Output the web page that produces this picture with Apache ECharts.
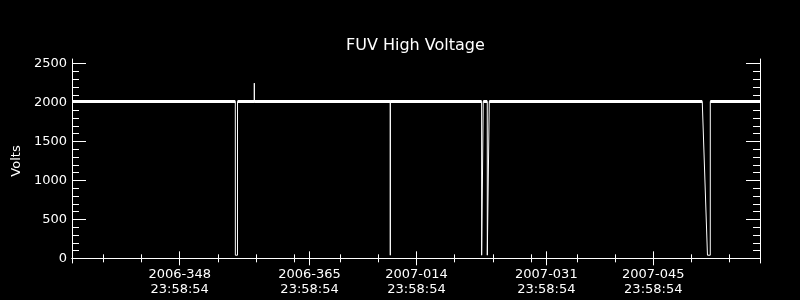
<!DOCTYPE html>
<html>
<head>
<meta charset="utf-8">
<script src="https://cdn.jsdelivr.net/npm/echarts@6/dist/echarts.min.js"></script>
<style>
  html, body { margin: 0; padding: 0; background: #000; }
  #chart { width: 800px; height: 300px; }
</style>
</head>
<body>
<div id="chart"></div>
<script>
// sample times and voltages
var times = [
  '2006-11-30 21:35',
  '2006-12-22 06:40', '2006-12-22 06:50', '2006-12-22 13:30', '2006-12-22 13:40',
  '2006-12-24 18:20', '2006-12-24 18:25', '2006-12-24 18:30',
  '2007-01-11 13:35', '2007-01-11 13:40', '2007-01-11 13:45',
  '2007-01-23 12:35', '2007-01-23 12:40', '2007-01-23 17:40', '2007-01-23 17:45',
  '2007-01-24 06:20', '2007-01-24 06:25', '2007-01-24 12:35', '2007-01-24 12:40',
  '2007-02-21 09:50', '2007-02-22 02:10', '2007-02-22 11:00', '2007-02-22 11:05',
  '2007-02-28 23:15'
]
var volts = [
  2015,
  2015, 40, 40, 2015,
  2015, 2250, 2015,
  2015, 40, 2015,
  2015, 40, 40, 2015,
  2015, 40, 40, 2015,
  2015, 40, 40, 2015,
  2015
]

var xMin = '2006-11-30 21:35'
var xMax = '2007-02-28 23:15'
var majorTimes = ['2006-12-14 23:58:54', '2006-12-31 23:58:54', '2007-01-14 23:58:54', '2007-01-31 23:58:54', '2007-02-14 23:58:54']
var tickLabels = ['2006-348\n23:58:54', '2006-365\n23:58:54', '2007-014\n23:58:54', '2007-031\n23:58:54', '2007-045\n23:58:54']
var minorTimes = [
  '2006-12-04 23:58:54', '2006-12-09 23:58:54', '2006-12-14 23:58:54', '2006-12-19 23:58:54', '2006-12-24 23:58:54', '2006-12-29 23:58:54',
  '2007-01-04 23:58:54', '2007-01-09 23:58:54', '2007-01-14 23:58:54', '2007-01-19 23:58:54', '2007-01-24 23:58:54', '2007-01-29 23:58:54',
  '2007-02-04 23:58:54', '2007-02-09 23:58:54', '2007-02-14 23:58:54', '2007-02-19 23:58:54', '2007-02-24 23:58:54'
]
var yMajor = [0, 500, 1000, 1500, 2000, 2500]
var yMinor = [0, 100, 200, 300, 400, 500, 600, 700, 800, 900, 1000, 1100, 1200, 1300, 1400,
  1500, 1600, 1700, 1800, 1900, 2000, 2100, 2200, 2300, 2400, 2500]

var t = function (s) { return +echarts.time.parse(s) }
var majorVals = majorTimes.map(t)
var minorVals = minorTimes.map(t)

var font = 'DejaVu Sans'
var white = '#fff'

var lineData = times.map(function (s, i) { return [t(s), volts[i]] })
// the noisy level is drawn as a thicker band, dips as thin lines
var bandData = times.map(function (s, i) {
  var v = volts[i]
  return [t(s), (v > 1900 && v < 2100) ? v : null]
})

function xAx (pos, len, vals, main) {
  return {
    type: 'value',
    position: pos,
    min: t(xMin),
    max: t(xMax),
    axisLine: { show: main, lineStyle: { color: white, width: 1 } },
    axisTick: { show: true, inside: true, length: len, customValues: vals, lineStyle: { color: white } },
    axisLabel: main && pos === 'bottom' ? {
      show: true,
      customValues: majorVals,
      color: white,
      fontFamily: font,
      fontSize: 13,
      lineHeight: 15,
      margin: 4,
      formatter: function (val) {
        var best = 0
        for (var i = 1; i < majorVals.length; i++) {
          if (Math.abs(majorVals[i] - val) < Math.abs(majorVals[best] - val)) best = i
        }
        return tickLabels[best]
      }
    } : { show: false },
    splitLine: { show: false }
  }
}

function yAx (pos, len, vals, main, withLabel) {
  var ax = {
    type: 'value',
    position: pos,
    min: -60,
    max: 2560,
    axisLine: { show: main, lineStyle: { color: white, width: 1 } },
    axisTick: { show: true, inside: true, length: len, customValues: vals, lineStyle: { color: white } },
    axisLabel: withLabel ? {
      show: true,
      customValues: yMajor,
      color: white,
      fontFamily: font,
      fontSize: 13,
      margin: 5,
      formatter: function (val) { return String(Math.round(val)) }
    } : { show: false },
    splitLine: { show: false }
  }
  if (withLabel) {
    ax.name = 'Volts'
    ax.nameLocation = 'middle'
    ax.nameGap = 44
    ax.nameTextStyle = { color: white, fontFamily: font, fontSize: 13 }
  }
  return ax
}

var chart = echarts.init(document.getElementById('chart'))
chart.setOption({
  backgroundColor: '#000',
  animation: false,
  title: {
    text: 'FUV High Voltage',
    left: 346,
    top: 38,
    padding: 0,
    textStyle: { color: white, fontFamily: font, fontSize: 16, fontWeight: 'normal' }
  },
  grid: { left: 72, right: 40, top: 59, bottom: 37 },
  xAxis: [
    xAx('bottom', 7, majorVals, true),
    xAx('bottom', 4, minorVals, false),
    xAx('top', 7, majorVals, true),
    xAx('top', 4, minorVals, false)
  ],
  yAxis: [
    yAx('left', 14, yMajor, true, true),
    yAx('left', 7, yMinor, false, false),
    yAx('right', 14, yMajor, true, false),
    yAx('right', 7, yMinor, false, false)
  ],
  series: [
    {
      name: 'band',
      type: 'line',
      data: bandData,
      xAxisIndex: 0,
      yAxisIndex: 0,
      symbol: 'none',
      connectNulls: false,
      lineStyle: { color: white, width: 3 }
    },
    {
      name: 'HV',
      type: 'line',
      data: lineData,
      xAxisIndex: 0,
      yAxisIndex: 0,
      symbol: 'none',
      lineStyle: { color: white, width: 1 }
    }
  ]
})
</script>
</body>
</html>
